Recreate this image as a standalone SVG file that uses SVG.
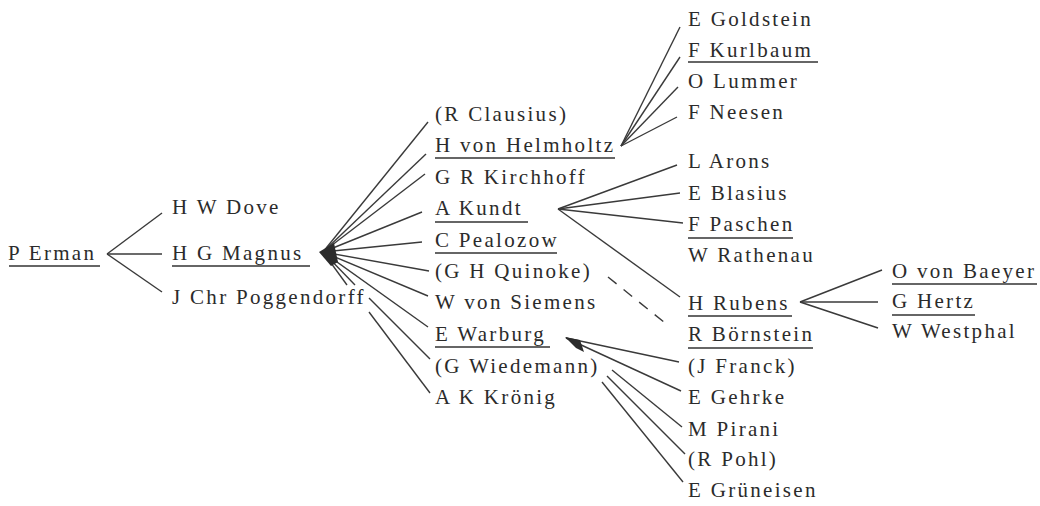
<svg xmlns="http://www.w3.org/2000/svg" width="1040" height="506" viewBox="0 0 1040 506">
<style>
text{font-family:"Liberation Serif","Times New Roman",serif;font-size:21px;letter-spacing:2.3px;fill:#2b2b2b}
.u{stroke:#333;stroke-width:1.4}
.c line,.c polyline{stroke:#3a3a3a;stroke-width:1.4;fill:none}
.c .d{stroke-dasharray:11 9}
.c polygon{fill:#2b2b2b;stroke:none}
</style>
<rect width="1040" height="506" fill="#fff"/>
<g class="c" id="connectors">
<line x1="107" y1="254" x2="162" y2="213"/>
<line x1="107" y1="254" x2="162" y2="254"/>
<line x1="107" y1="254" x2="162" y2="292"/>
<line x1="323" y1="252" x2="428" y2="122"/>
<line x1="323" y1="252" x2="426" y2="154"/>
<line x1="323" y1="252" x2="425" y2="174"/>
<line x1="323" y1="252" x2="422" y2="212"/>
<line x1="323" y1="252" x2="422" y2="242"/>
<line x1="323" y1="252" x2="429" y2="271"/>
<line x1="323" y1="252" x2="428" y2="296"/>
<line x1="323" y1="252" x2="428" y2="327"/>
<line x1="323" y1="252" x2="355" y2="285"/>
<line x1="369" y1="298" x2="430" y2="359"/>
<line x1="323" y1="252" x2="347" y2="285"/>
<line x1="369" y1="312" x2="430" y2="393"/>
<polygon points="319,252 334,243 338,262 331,266"/>
<line x1="621" y1="146" x2="680" y2="27"/>
<line x1="621" y1="146" x2="680" y2="57"/>
<line x1="621" y1="146" x2="678" y2="87"/>
<line x1="621" y1="146" x2="677" y2="117"/>
<line x1="558" y1="209" x2="677" y2="165"/>
<line x1="558" y1="209" x2="680" y2="193"/>
<line x1="558" y1="209" x2="683" y2="223"/>
<line x1="558" y1="209" x2="680" y2="297"/>
<line class="d" x1="608" y1="277" x2="670" y2="327"/>
<line x1="566" y1="338" x2="679" y2="362"/>
<line x1="566" y1="338" x2="681" y2="391"/>
<line x1="612" y1="370" x2="682" y2="427"/>
<line x1="607" y1="376" x2="685" y2="454"/>
<line x1="602" y1="382" x2="683" y2="482"/>
<polygon points="565,337 580,340 584,352 576,348"/>
<line x1="800" y1="302" x2="882" y2="270"/>
<line x1="800" y1="302" x2="878" y2="302"/>
<line x1="800" y1="302" x2="878" y2="328"/>
</g>
<g id="n-erman"><text x="8" y="260">P Erman</text><line class="u" x1="9" y1="266" x2="100" y2="266"/></g>
<g id="n-dove"><text x="172" y="214">H W Dove</text></g>
<g id="n-magnus"><text x="172" y="260">H G Magnus</text><line class="u" x1="172" y1="266" x2="310" y2="266"/></g>
<g id="n-poggendorff"><text x="172" y="304">J Chr Poggendorff</text></g>
<g id="n-clausius"><text x="435" y="121">(R Clausius)</text></g>
<g id="n-helmholtz"><text x="435" y="152">H von Helmholtz</text><line class="u" x1="435" y1="158" x2="615" y2="158"/></g>
<g id="n-kirchhoff"><text x="435" y="184">G R Kirchhoff</text></g>
<g id="n-kundt"><text x="435" y="215">A Kundt</text><line class="u" x1="435" y1="222" x2="528" y2="222"/></g>
<g id="n-pealozow"><text x="435" y="247">C Pealozow</text><line class="u" x1="435" y1="253" x2="557" y2="253"/></g>
<g id="n-quinoke"><text x="435" y="278">(G H Quinoke)</text></g>
<g id="n-siemens"><text x="435" y="309">W von Siemens</text></g>
<g id="n-warburg"><text x="435" y="341">E Warburg</text><line class="u" x1="435" y1="347" x2="550" y2="347"/></g>
<g id="n-wiedemann"><text x="435" y="373">(G Wiedemann)</text></g>
<g id="n-kronig"><text x="435" y="404">A K Krönig</text></g>
<g id="n-goldstein"><text x="688" y="26">E Goldstein</text></g>
<g id="n-kurlbaum"><text x="688" y="57">F Kurlbaum</text><line class="u" x1="688" y1="62" x2="818" y2="62"/></g>
<g id="n-lummer"><text x="688" y="88">O Lummer</text></g>
<g id="n-neesen"><text x="688" y="119">F Neesen</text></g>
<g id="n-arons"><text x="688" y="168">L Arons</text></g>
<g id="n-blasius"><text x="688" y="200">E Blasius</text></g>
<g id="n-paschen"><text x="688" y="231">F Paschen</text><line class="u" x1="688" y1="238" x2="793" y2="238"/></g>
<g id="n-rathenau"><text x="688" y="262">W Rathenau</text></g>
<g id="n-rubens"><text x="688" y="310">H Rubens</text><line class="u" x1="688" y1="316" x2="792" y2="316"/></g>
<g id="n-bornstein"><text x="688" y="341">R Börnstein</text><line class="u" x1="688" y1="348" x2="813" y2="348"/></g>
<g id="n-franck"><text x="688" y="373">(J Franck)</text></g>
<g id="n-gehrke"><text x="688" y="404">E Gehrke</text></g>
<g id="n-pirani"><text x="688" y="436">M Pirani</text></g>
<g id="n-pohl"><text x="688" y="466">(R Pohl)</text></g>
<g id="n-gruneisen"><text x="688" y="497">E Grüneisen</text></g>
<g id="n-baeyer"><text x="892" y="278">O von Baeyer</text><line class="u" x1="892" y1="284" x2="1037" y2="284"/></g>
<g id="n-hertz"><text x="892" y="308">G Hertz</text><line class="u" x1="892" y1="315" x2="975" y2="315"/></g>
<g id="n-westphal"><text x="892" y="338">W Westphal</text></g>
</svg>
